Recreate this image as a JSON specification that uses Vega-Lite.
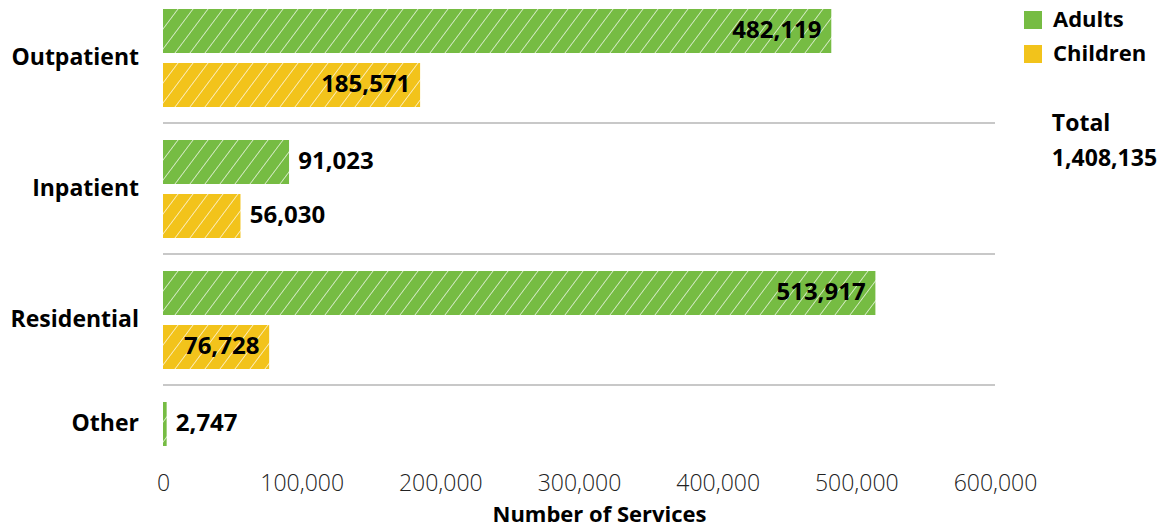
{
  "$schema": "https://vega.github.io/schema/vega-lite/v6.json",
  "padding": {"left": 10, "top": 0, "right": 0, "bottom": 0},
  "background": "white",
  "config": {
    "view": {"stroke": null},
    "font": "Open Sans",
    "axisX": {"ticks": false, "domain": false, "grid": false, "labelFlush": false,
      "labelFont": "Open Sans", "labelFontSize": 23, "labelFontWeight": 300, "labelColor": "#222", "labelPadding": 16,
      "titleFont": "Open Sans", "titleFontSize": 22, "titleFontWeight": "bold", "titleColor": "#000", "titlePadding": 9, "titleX": 436}
  },
  "data": {"values": [
    {"category": "Outpatient", "group": "Adults", "value": 482119},
    {"category": "Outpatient", "group": "Children", "value": 185571},
    {"category": "Inpatient", "group": "Adults", "value": 91023},
    {"category": "Inpatient", "group": "Children", "value": 56030},
    {"category": "Residential", "group": "Adults", "value": 513917},
    {"category": "Residential", "group": "Children", "value": 76728},
    {"category": "Other", "group": "Adults", "value": 2747}
  ]},
  "facet": {
    "row": {
      "field": "category", "type": "nominal",
      "sort": ["Outpatient", "Inpatient", "Residential", "Other"],
      "header": {
        "title": null, "labelAngle": 0, "labelAlign": "left", "labelPadding": 23,
        "labelFont": "Open Sans", "labelFontSize": 23, "labelFontWeight": "bold", "labelColor": "#000"
      }
    }
  },
  "spacing": {"row": 5},
  "resolve": {"scale": {"y": "independent"}},
  "spec": {
    "width": 832,
    "height": {"step": 54},
    "layer": [
      {
        "mark": {"type": "bar"},
        "encoding": {
          "y": {"field": "group", "type": "nominal", "axis": null, "sort": ["Adults", "Children"], "scale": {"paddingInner": 0.1852, "paddingOuter": 0.1667}},
          "x": {"field": "value", "type": "quantitative", "title": "Number of Services",
            "scale": {"domain": [0, 600000], "nice": false},
            "axis": {"values": [0, 100000, 200000, 300000, 400000, 500000, 600000], "format": ",d"}},
          "color": {"field": "group", "type": "nominal",
            "scale": {"domain": ["Adults", "Children"], "range": ["#76BC43", "#F2C31B"]},
            "legend": {
              "title": ["\u200d\u00a0\u00a0\u00a0\u00a0\u00a0Total", "\u200d\u00a0\u00a0\u00a0\u00a0\u00a01,408,135"],
              "titleOrient": "bottom", "orient": "none", "legendX": 859, "legendY": 9, "padding": 0,
              "symbolType": "square", "symbolSize": 324, "symbolStrokeWidth": 0, "symbolOpacity": 1,
              "labelFont": "Open Sans", "labelFontSize": 22, "labelFontWeight": "bold", "labelColor": "#000",
              "labelOffset": 9, "rowPadding": 12,
              "titleFont": "Open Sans", "titleFontSize": 23, "titleFontWeight": "bold", "titleColor": "#000",
              "titleLineHeight": 35, "titlePadding": 48, "titleAnchor": "start", "titleAlign": "left"
            }}
        }
      },
      {
        "mark": {"type": "bar", "fill": {"gradient": "linear", "x1": 0, "y1": 0, "x2": 0.9, "y2": 0.0357, "stops": [
          {"offset": 0, "color": "rgba(255,255,255,0)"},
          {"offset": 0.0185, "color": "rgba(255,255,255,0)"}, {"offset": 0.02, "color": "rgba(255,255,255,0.7)"}, {"offset": 0.0215, "color": "rgba(255,255,255,0)"},
          {"offset": 0.0385, "color": "rgba(255,255,255,0)"}, {"offset": 0.04, "color": "rgba(255,255,255,0.7)"}, {"offset": 0.0415, "color": "rgba(255,255,255,0)"},
          {"offset": 0.0585, "color": "rgba(255,255,255,0)"}, {"offset": 0.06, "color": "rgba(255,255,255,0.7)"}, {"offset": 0.0615, "color": "rgba(255,255,255,0)"},
          {"offset": 0.0785, "color": "rgba(255,255,255,0)"}, {"offset": 0.08, "color": "rgba(255,255,255,0.7)"}, {"offset": 0.0815, "color": "rgba(255,255,255,0)"},
          {"offset": 0.0985, "color": "rgba(255,255,255,0)"}, {"offset": 0.10, "color": "rgba(255,255,255,0.7)"}, {"offset": 0.1015, "color": "rgba(255,255,255,0)"},
          {"offset": 0.1185, "color": "rgba(255,255,255,0)"}, {"offset": 0.12, "color": "rgba(255,255,255,0.7)"}, {"offset": 0.1215, "color": "rgba(255,255,255,0)"},
          {"offset": 0.1385, "color": "rgba(255,255,255,0)"}, {"offset": 0.14, "color": "rgba(255,255,255,0.7)"}, {"offset": 0.1415, "color": "rgba(255,255,255,0)"},
          {"offset": 0.1585, "color": "rgba(255,255,255,0)"}, {"offset": 0.16, "color": "rgba(255,255,255,0.7)"}, {"offset": 0.1615, "color": "rgba(255,255,255,0)"},
          {"offset": 0.1785, "color": "rgba(255,255,255,0)"}, {"offset": 0.18, "color": "rgba(255,255,255,0.7)"}, {"offset": 0.1815, "color": "rgba(255,255,255,0)"},
          {"offset": 0.1985, "color": "rgba(255,255,255,0)"}, {"offset": 0.20, "color": "rgba(255,255,255,0.7)"}, {"offset": 0.2015, "color": "rgba(255,255,255,0)"},
          {"offset": 0.2185, "color": "rgba(255,255,255,0)"}, {"offset": 0.22, "color": "rgba(255,255,255,0.7)"}, {"offset": 0.2215, "color": "rgba(255,255,255,0)"},
          {"offset": 0.2385, "color": "rgba(255,255,255,0)"}, {"offset": 0.24, "color": "rgba(255,255,255,0.7)"}, {"offset": 0.2415, "color": "rgba(255,255,255,0)"},
          {"offset": 0.2585, "color": "rgba(255,255,255,0)"}, {"offset": 0.26, "color": "rgba(255,255,255,0.7)"}, {"offset": 0.2615, "color": "rgba(255,255,255,0)"},
          {"offset": 0.2785, "color": "rgba(255,255,255,0)"}, {"offset": 0.28, "color": "rgba(255,255,255,0.7)"}, {"offset": 0.2815, "color": "rgba(255,255,255,0)"},
          {"offset": 0.2985, "color": "rgba(255,255,255,0)"}, {"offset": 0.30, "color": "rgba(255,255,255,0.7)"}, {"offset": 0.3015, "color": "rgba(255,255,255,0)"},
          {"offset": 0.3185, "color": "rgba(255,255,255,0)"}, {"offset": 0.32, "color": "rgba(255,255,255,0.7)"}, {"offset": 0.3215, "color": "rgba(255,255,255,0)"},
          {"offset": 0.3385, "color": "rgba(255,255,255,0)"}, {"offset": 0.34, "color": "rgba(255,255,255,0.7)"}, {"offset": 0.3415, "color": "rgba(255,255,255,0)"},
          {"offset": 0.3585, "color": "rgba(255,255,255,0)"}, {"offset": 0.36, "color": "rgba(255,255,255,0.7)"}, {"offset": 0.3615, "color": "rgba(255,255,255,0)"},
          {"offset": 0.3785, "color": "rgba(255,255,255,0)"}, {"offset": 0.38, "color": "rgba(255,255,255,0.7)"}, {"offset": 0.3815, "color": "rgba(255,255,255,0)"},
          {"offset": 0.3985, "color": "rgba(255,255,255,0)"}, {"offset": 0.40, "color": "rgba(255,255,255,0.7)"}, {"offset": 0.4015, "color": "rgba(255,255,255,0)"},
          {"offset": 0.4185, "color": "rgba(255,255,255,0)"}, {"offset": 0.42, "color": "rgba(255,255,255,0.7)"}, {"offset": 0.4215, "color": "rgba(255,255,255,0)"},
          {"offset": 0.4385, "color": "rgba(255,255,255,0)"}, {"offset": 0.44, "color": "rgba(255,255,255,0.7)"}, {"offset": 0.4415, "color": "rgba(255,255,255,0)"},
          {"offset": 0.4585, "color": "rgba(255,255,255,0)"}, {"offset": 0.46, "color": "rgba(255,255,255,0.7)"}, {"offset": 0.4615, "color": "rgba(255,255,255,0)"},
          {"offset": 0.4785, "color": "rgba(255,255,255,0)"}, {"offset": 0.48, "color": "rgba(255,255,255,0.7)"}, {"offset": 0.4815, "color": "rgba(255,255,255,0)"},
          {"offset": 0.4985, "color": "rgba(255,255,255,0)"}, {"offset": 0.50, "color": "rgba(255,255,255,0.7)"}, {"offset": 0.5015, "color": "rgba(255,255,255,0)"},
          {"offset": 0.5185, "color": "rgba(255,255,255,0)"}, {"offset": 0.52, "color": "rgba(255,255,255,0.7)"}, {"offset": 0.5215, "color": "rgba(255,255,255,0)"},
          {"offset": 0.5385, "color": "rgba(255,255,255,0)"}, {"offset": 0.54, "color": "rgba(255,255,255,0.7)"}, {"offset": 0.5415, "color": "rgba(255,255,255,0)"},
          {"offset": 0.5585, "color": "rgba(255,255,255,0)"}, {"offset": 0.56, "color": "rgba(255,255,255,0.7)"}, {"offset": 0.5615, "color": "rgba(255,255,255,0)"},
          {"offset": 0.5785, "color": "rgba(255,255,255,0)"}, {"offset": 0.58, "color": "rgba(255,255,255,0.7)"}, {"offset": 0.5815, "color": "rgba(255,255,255,0)"},
          {"offset": 0.5985, "color": "rgba(255,255,255,0)"}, {"offset": 0.60, "color": "rgba(255,255,255,0.7)"}, {"offset": 0.6015, "color": "rgba(255,255,255,0)"},
          {"offset": 0.6185, "color": "rgba(255,255,255,0)"}, {"offset": 0.62, "color": "rgba(255,255,255,0.7)"}, {"offset": 0.6215, "color": "rgba(255,255,255,0)"},
          {"offset": 0.6385, "color": "rgba(255,255,255,0)"}, {"offset": 0.64, "color": "rgba(255,255,255,0.7)"}, {"offset": 0.6415, "color": "rgba(255,255,255,0)"},
          {"offset": 0.6585, "color": "rgba(255,255,255,0)"}, {"offset": 0.66, "color": "rgba(255,255,255,0.7)"}, {"offset": 0.6615, "color": "rgba(255,255,255,0)"},
          {"offset": 0.6785, "color": "rgba(255,255,255,0)"}, {"offset": 0.68, "color": "rgba(255,255,255,0.7)"}, {"offset": 0.6815, "color": "rgba(255,255,255,0)"},
          {"offset": 0.6985, "color": "rgba(255,255,255,0)"}, {"offset": 0.70, "color": "rgba(255,255,255,0.7)"}, {"offset": 0.7015, "color": "rgba(255,255,255,0)"},
          {"offset": 0.7185, "color": "rgba(255,255,255,0)"}, {"offset": 0.72, "color": "rgba(255,255,255,0.7)"}, {"offset": 0.7215, "color": "rgba(255,255,255,0)"},
          {"offset": 0.7385, "color": "rgba(255,255,255,0)"}, {"offset": 0.74, "color": "rgba(255,255,255,0.7)"}, {"offset": 0.7415, "color": "rgba(255,255,255,0)"},
          {"offset": 0.7585, "color": "rgba(255,255,255,0)"}, {"offset": 0.76, "color": "rgba(255,255,255,0.7)"}, {"offset": 0.7615, "color": "rgba(255,255,255,0)"},
          {"offset": 0.7785, "color": "rgba(255,255,255,0)"}, {"offset": 0.78, "color": "rgba(255,255,255,0.7)"}, {"offset": 0.7815, "color": "rgba(255,255,255,0)"},
          {"offset": 0.7985, "color": "rgba(255,255,255,0)"}, {"offset": 0.80, "color": "rgba(255,255,255,0.7)"}, {"offset": 0.8015, "color": "rgba(255,255,255,0)"},
          {"offset": 0.8185, "color": "rgba(255,255,255,0)"}, {"offset": 0.82, "color": "rgba(255,255,255,0.7)"}, {"offset": 0.8215, "color": "rgba(255,255,255,0)"},
          {"offset": 0.8385, "color": "rgba(255,255,255,0)"}, {"offset": 0.84, "color": "rgba(255,255,255,0.7)"}, {"offset": 0.8415, "color": "rgba(255,255,255,0)"},
          {"offset": 0.8585, "color": "rgba(255,255,255,0)"}, {"offset": 0.86, "color": "rgba(255,255,255,0.7)"}, {"offset": 0.8615, "color": "rgba(255,255,255,0)"},
          {"offset": 0.8785, "color": "rgba(255,255,255,0)"}, {"offset": 0.88, "color": "rgba(255,255,255,0.7)"}, {"offset": 0.8815, "color": "rgba(255,255,255,0)"},
          {"offset": 0.8985, "color": "rgba(255,255,255,0)"}, {"offset": 0.90, "color": "rgba(255,255,255,0.7)"}, {"offset": 0.9015, "color": "rgba(255,255,255,0)"},
          {"offset": 0.9185, "color": "rgba(255,255,255,0)"}, {"offset": 0.92, "color": "rgba(255,255,255,0.7)"}, {"offset": 0.9215, "color": "rgba(255,255,255,0)"},
          {"offset": 0.9385, "color": "rgba(255,255,255,0)"}, {"offset": 0.94, "color": "rgba(255,255,255,0.7)"}, {"offset": 0.9415, "color": "rgba(255,255,255,0)"},
          {"offset": 0.9585, "color": "rgba(255,255,255,0)"}, {"offset": 0.96, "color": "rgba(255,255,255,0.7)"}, {"offset": 0.9615, "color": "rgba(255,255,255,0)"},
          {"offset": 0.9785, "color": "rgba(255,255,255,0)"}, {"offset": 0.98, "color": "rgba(255,255,255,0.7)"}, {"offset": 0.9815, "color": "rgba(255,255,255,0)"},
          {"offset": 1, "color": "rgba(255,255,255,0)"}
        ]}},
        "encoding": {
          "y": {"field": "group", "type": "nominal", "axis": null, "sort": ["Adults", "Children"]},
          "x": {"datum": 0, "type": "quantitative", "title": "Number of Services", "axis": {"values": [0, 100000, 200000, 300000, 400000, 500000, 600000], "format": ",d"}},
          "x2": {"datum": 600000}
        }
      },
      {
        "mark": {"type": "bar", "fill": "white"},
        "encoding": {
          "y": {"field": "group", "type": "nominal", "axis": null, "sort": ["Adults", "Children"]},
          "x": {"field": "value", "type": "quantitative", "title": "Number of Services", "axis": {"values": [0, 100000, 200000, 300000, 400000, 500000, 600000], "format": ",d"}},
          "x2": {"datum": 600000}
        }
      },
      {
        "transform": [{"filter": "datum.group == 'Adults' && datum.category != 'Outpatient'"}],
        "mark": {"type": "rule", "color": "#c8c8c8", "strokeWidth": 2},
        "encoding": {
          "x": {"datum": 0, "type": "quantitative", "title": "Number of Services", "axis": {"values": [0, 100000, 200000, 300000, 400000, 500000, 600000], "format": ",d"}},
          "x2": {"datum": 600000},
          "y": {"value": -8}
        }
      },
      {
        "transform": [{"filter": "datum.value > 150000 || (datum.category == 'Residential' && datum.group == 'Children')"}],
        "mark": {"type": "text", "align": "right", "baseline": "middle", "dx": -10, "font": "Open Sans", "fontSize": 24, "fontWeight": "bold", "color": "#000"},
        "encoding": {
          "y": {"field": "group", "type": "nominal", "axis": null, "sort": ["Adults", "Children"]},
          "x": {"field": "value", "type": "quantitative", "title": "Number of Services", "axis": {"values": [0, 100000, 200000, 300000, 400000, 500000, 600000], "format": ",d"}},
          "text": {"field": "value", "type": "quantitative", "format": ","}
        }
      },
      {
        "transform": [{"filter": "!(datum.value > 150000 || (datum.category == 'Residential' && datum.group == 'Children'))"}],
        "mark": {"type": "text", "align": "left", "baseline": "middle", "dx": 9, "font": "Open Sans", "fontSize": 24, "fontWeight": "bold", "color": "#000"},
        "encoding": {
          "y": {"field": "group", "type": "nominal", "axis": null, "sort": ["Adults", "Children"]},
          "x": {"field": "value", "type": "quantitative", "title": "Number of Services", "axis": {"values": [0, 100000, 200000, 300000, 400000, 500000, 600000], "format": ",d"}},
          "text": {"field": "value", "type": "quantitative", "format": ","}
        }
      }
    ]
  }
}
